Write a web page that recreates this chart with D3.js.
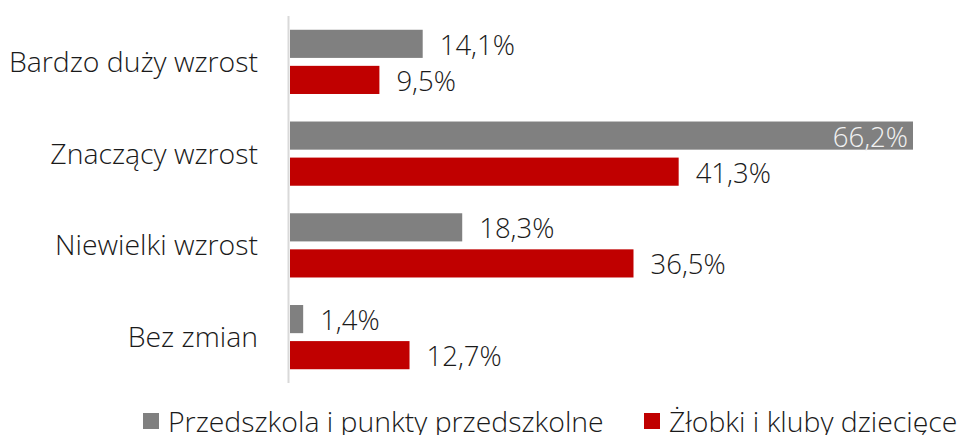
<!DOCTYPE html>
<html lang="pl">
<head>
<meta charset="UTF-8">
<title>Wzrost</title>
<style>
  body { margin: 0; background: #fff; }
  svg text { font-family: "Open Sans", sans-serif; font-weight: 300; fill: #1a1a1a; }
</style>
</head>
<body>
<svg id="chart" width="963" height="435"></svg>
<script src="https://d3js.org/d3.v7.min.js"></script>
<script>
// dane z wykresu
const categories = ["Bardzo duży wzrost", "Znaczący wzrost", "Niewielki wzrost", "Bez zmian"];
const seriesNames = ["Przedszkola i punkty przedszkolne", "Żłobki i kluby dziecięce"];
const przedszkola = [14.1, 66.2, 18.3, 1.4];
const zlobki = [9.5, 41.3, 36.5, 12.7];
const colors = ["#808080", "#C00000"];

const svg = d3.select("#chart");
const margin = { top: 16, left: 290, right: 50, bottom: 52 };
const width = 963, height = 435;

const x = d3.scaleLinear()
    .domain([0, 66.2])
    .range([margin.left, 913]);

const y = d3.scaleBand()
    .domain(categories)
    .range([margin.top, height - margin.bottom])
    .paddingInner(0.3)
    .paddingOuter(0.15);

const sub = d3.scaleBand()
    .domain([0, 1])
    .range([0, y.bandwidth()])
    .paddingInner(0.22);

const fmt = v => v.toFixed(1).replace(".", ",") + "%";

// oś pionowa
svg.append("line")
    .attr("x1", margin.left - 1.5).attr("x2", margin.left - 1.5)
    .attr("y1", margin.top).attr("y2", height - margin.bottom)
    .attr("stroke", "#d9d9d9").attr("stroke-width", 2);

// etykiety kategorii
svg.append("g").selectAll("text")
    .data(categories)
    .join("text")
    .attr("x", 258)
    .attr("y", d => y(d) + y.bandwidth() / 2)
    .attr("dy", "0.35em")
    .attr("text-anchor", "end")
    .style("font-size", "28.4px")
    .text(d => d);

const data = [przedszkola, zlobki];

data.forEach((vals, s) => {
  const g = svg.append("g");
  g.selectAll("rect")
    .data(vals)
    .join("rect")
    .attr("x", x(0))
    .attr("y", (d, i) => y(categories[i]) + sub(s))
    .attr("width", d => x(d) - x(0))
    .attr("height", sub.bandwidth())
    .attr("fill", colors[s]);

  g.selectAll("text")
    .data(vals)
    .join("text")
    .attr("y", (d, i) => y(categories[i]) + sub(s) + sub.bandwidth() / 2)
    .attr("dy", "0.4em")
    .style("font-size", "27.5px")
    .each(function (d) {
      const t = d3.select(this);
      if (x(d) > 850) {
        t.attr("x", x(d) - 5).attr("text-anchor", "end").style("fill", "#f2f2f2");
      } else {
        t.attr("x", x(d) + 17).attr("text-anchor", "start");
      }
    })
    .text(d => fmt(d));
});

// legenda
const legendX = [143, 644];
const leg = svg.append("g");
seriesNames.forEach((name, i) => {
  leg.append("rect")
    .attr("x", legendX[i]).attr("y", 413)
    .attr("width", 16).attr("height", 16)
    .attr("fill", colors[i]);
  leg.append("text")
    .attr("x", legendX[i] + 25).attr("y", 432)
    .style("font-size", "28.4px")
    .text(name);
});
</script>
</body>
</html>
